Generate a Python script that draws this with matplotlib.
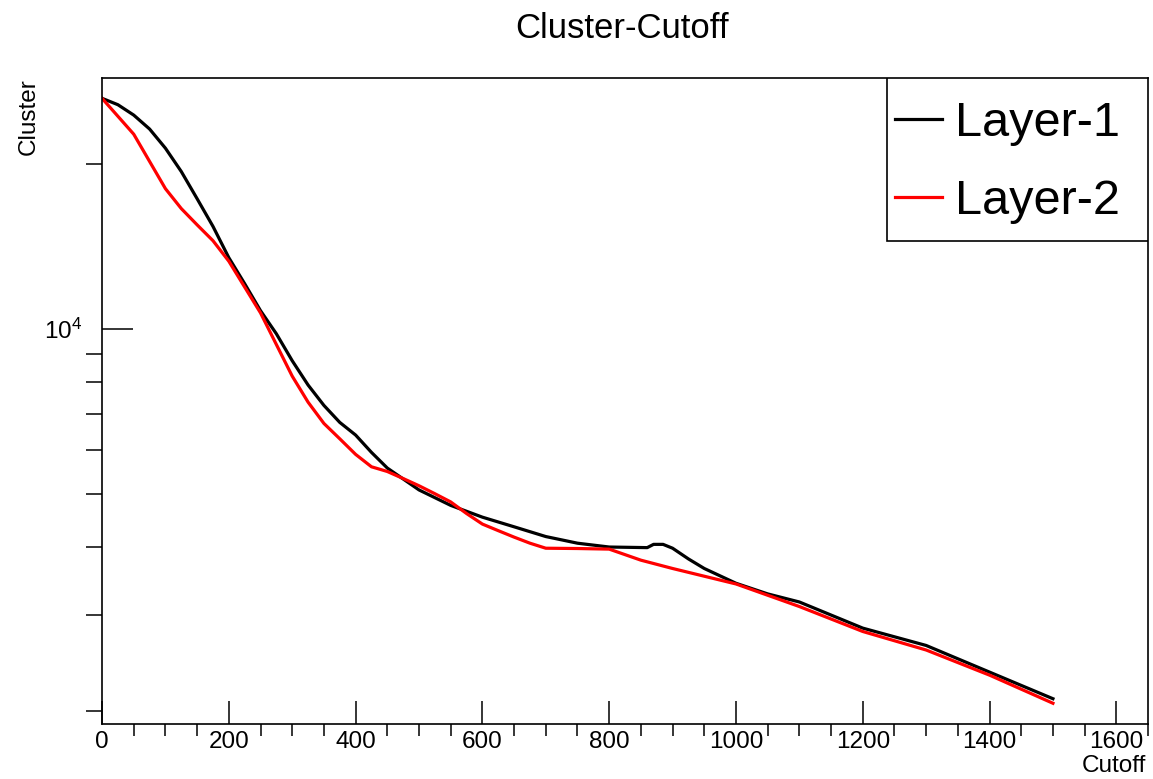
import matplotlib.pyplot as plt
from matplotlib.patches import Rectangle
from matplotlib.ticker import NullFormatter

plt.rcParams['font.family'] = ['Liberation Sans', 'DejaVu Sans']
plt.rcParams['mathtext.fontset'] = 'custom'
plt.rcParams['mathtext.rm'] = 'Liberation Sans'
plt.rcParams['mathtext.it'] = 'Liberation Sans'

# cutoff scan, number of clusters per layer
cutoff_1 = [0, 25, 50, 75, 100, 125, 150, 175, 200, 225, 250, 275, 300, 325, 350, 375,
            400, 425, 450, 475, 500, 550, 600, 650, 700, 750, 800, 860, 870, 885, 900,
            925, 950, 1000, 1050, 1100, 1200, 1300, 1400, 1500]
cluster_1 = [26400, 25700, 24600, 23200, 21400, 19400, 17300, 15400, 13500, 12100, 10800,
             9800, 8750, 7900, 7250, 6750, 6400, 5950, 5570, 5320, 5080, 4760, 4530,
             4350, 4175, 4060, 3995, 3985, 4040, 4040, 3975, 3800, 3650, 3430, 3280,
             3170, 2840, 2640, 2360, 2110]

cutoff_2 = [0, 50, 100, 125, 150, 175, 200, 250, 300, 325, 350, 375, 400, 425, 450, 475,
            500, 525, 550, 575, 600, 625, 650, 675, 700, 750, 800, 850, 900, 1000, 1100,
            1200, 1300, 1400, 1500]
cluster_2 = [26400, 22700, 18050, 16600, 15500, 14500, 13300, 10700, 8200, 7350, 6720,
             6300, 5900, 5600, 5490, 5330, 5170, 5000, 4830, 4600, 4400, 4280, 4165,
             4060, 3975, 3970, 3960, 3780, 3650, 3420, 3110, 2800, 2590, 2330, 2070]

fig = plt.figure(figsize=(11.53, 7.79), dpi=100)
ax = fig.add_axes([0.0885, 0.0706, 0.9072, 0.8293])

ax.plot(cutoff_1, cluster_1, color='black', lw=2.3, label='Layer-1')
ax.plot(cutoff_2, cluster_2, color='red', lw=2.3, label='Layer-2')

ax.set_yscale('log')
ax.set_xlim(0, 1650)
ax.set_ylim(1897, 28760)

ax.set_xticks(range(0, 1601, 200))
ax.set_xticks(range(0, 1651, 50), minor=True)
ax.set_yticks([1e4])
ax.set_yticklabels(['$10^{4}$'])
ax.set_yticks([2000, 3000, 4000, 5000, 6000, 7000, 8000, 9000, 20000], minor=True)
ax.yaxis.set_minor_formatter(NullFormatter())

ax.tick_params(axis='both', direction='in', labelsize=17.5, width=1.1)
ax.tick_params(axis='x', which='major', length=16.5, pad=5)
ax.tick_params(axis='x', which='minor', length=8.3, width=1.1)
ax.tick_params(axis='y', which='major', length=22, pad=14)
ax.tick_params(axis='y', which='minor', length=11.5, width=1.1)
for s in ax.spines.values():
    s.set_linewidth(1.2)

fig.text(0.5395, 0.964, 'Cluster-Cutoff', fontsize=25, ha='center', va='center')
fig.text(29 / 1153, 1 - 78 / 779, 'Cluster', fontsize=17.5, rotation=90,
         ha='center', va='top')
fig.text(1146 / 1153, 1 - 766 / 779, 'Cutoff', fontsize=17.5, ha='right', va='center')

# legend box in the top right corner of the frame
ax.add_patch(Rectangle((0.7505, 0.7477), 0.2495, 0.2523, transform=ax.transAxes,
                       facecolor='white', edgecolor='black', lw=1.2, zorder=5))
leg = ax.legend(loc='upper left', bbox_to_anchor=(0.758, 0.965), frameon=False,
                fontsize=35, borderaxespad=0, borderpad=0, handlelength=0.97,
                handletextpad=0.27, labelspacing=0.69)
leg.set_zorder(6)
for h in leg.get_lines():
    h.set_linewidth(2.3)

fig.savefig('out.png', dpi=100)
